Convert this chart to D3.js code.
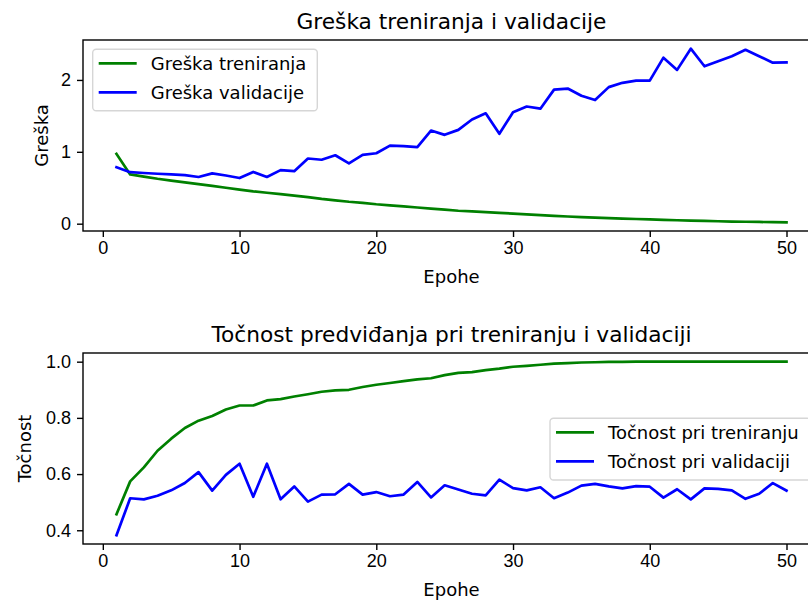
<!DOCTYPE html>
<html>
<head>
<meta charset="utf-8">
<script src="https://cdn.jsdelivr.net/npm/d3@7"></script>
<style>
  body { margin: 0; background: #fff; }
  svg { display: block; font-family: "DejaVu Sans", sans-serif; }
</style>
</head>
<body>
<div id="chart"></div>
<script>
// Data (epochs 1..50)
const epochs = d3.range(1, 51);

const trainLoss = [
  0.97, 0.685, 0.655, 0.625, 0.6, 0.575, 0.55, 0.525, 0.5, 0.475,
  0.45, 0.43, 0.41, 0.39, 0.37, 0.345, 0.325, 0.305, 0.29, 0.27,
  0.255, 0.24, 0.225, 0.21, 0.195, 0.18, 0.17, 0.16, 0.15, 0.14,
  0.13, 0.12, 0.11, 0.1, 0.092, 0.085, 0.078, 0.071, 0.065, 0.059,
  0.053, 0.048, 0.043, 0.038, 0.034, 0.03, 0.027, 0.024, 0.021, 0.019
];
const valLoss = [
  0.786, 0.717, 0.705, 0.695, 0.685, 0.675, 0.65, 0.7, 0.67, 0.635,
  0.72, 0.65, 0.745, 0.73, 0.907, 0.89, 0.952, 0.84, 0.958, 0.98,
  1.087, 1.08, 1.065, 1.296, 1.236, 1.305, 1.449, 1.536, 1.25, 1.55,
  1.63, 1.6, 1.865, 1.88, 1.78, 1.72, 1.9, 1.96, 1.99, 1.99,
  2.31, 2.14, 2.435, 2.19, 2.26, 2.33, 2.42, 2.33, 2.24, 2.245
];
const trainAcc = [
  0.457, 0.574, 0.624, 0.683, 0.726, 0.764, 0.79, 0.807, 0.83, 0.844,
  0.844, 0.862, 0.867, 0.876, 0.884, 0.893, 0.898, 0.9, 0.91, 0.918,
  0.924, 0.931, 0.937, 0.941, 0.952, 0.96, 0.963, 0.97, 0.975, 0.982,
  0.985, 0.989, 0.993, 0.995, 0.997, 0.998, 0.999, 0.999, 1.0, 1.0,
  1.0, 1.0, 1.0, 1.0, 1.0, 1.0, 1.0, 1.0, 1.0, 1.0
];
const valAcc = [
  0.382, 0.514, 0.51, 0.523, 0.542, 0.568, 0.607, 0.541, 0.597, 0.637,
  0.519, 0.637, 0.51, 0.556, 0.502, 0.527, 0.528, 0.565, 0.527, 0.536,
  0.521, 0.527, 0.572, 0.517, 0.56, 0.545, 0.53, 0.524, 0.58, 0.55,
  0.542, 0.553, 0.514, 0.534, 0.559, 0.565, 0.556, 0.549, 0.557, 0.555,
  0.516, 0.546, 0.51, 0.549, 0.547, 0.542, 0.512, 0.53, 0.568, 0.541
];

const xTicks = [0, 10, 20, 30, 40, 50];
const lossTicks = [0, 1, 2];
const accTicks = [0.4, 0.6, 0.8, 1.0];

// Figure constants
const width = 808;
const height = 600;
const axLeft = 83;
const axRight = 820; // frame runs past the picture edge, as in the original
const tickFont = 18;
const titleFont = 21.7;

const svg = d3
  .select("#chart")
  .append("svg")
  .attr("width", width)
  .attr("height", height);

// matplotlib-like 5% margin around the data
function padded(values) {
  const [lo, hi] = d3.extent(values);
  const pad = (hi - lo) * 0.05;
  return [lo - pad, hi + pad];
}

function drawPanel(cfg) {
  const { top, bottom, id } = cfg;
  const g = svg.append("g");

  const xScale = d3.scaleLinear().domain(padded(epochs)).range([axLeft, axRight]);
  const yScale = d3
    .scaleLinear()
    .domain(padded(cfg.series.flatMap((s) => s.values)))
    .range([bottom, top]);

  svg
    .append("clipPath")
    .attr("id", id)
    .append("rect")
    .attr("x", axLeft)
    .attr("y", top)
    .attr("width", axRight - axLeft)
    .attr("height", bottom - top);

  // Lines
  const line = d3
    .line()
    .x((d, i) => xScale(epochs[i]))
    .y((d) => yScale(d));

  cfg.series.forEach((s) => {
    g.append("path")
      .datum(s.values)
      .attr("fill", "none")
      .attr("stroke", s.color)
      .attr("stroke-width", 2.7)
      .attr("stroke-linejoin", "round")
      .attr("stroke-linecap", "square")
      .attr("clip-path", `url(#${id})`)
      .attr("d", line);
  });

  // Axes
  const xAxis = g
    .append("g")
    .attr("transform", `translate(0, ${bottom})`)
    .call(d3.axisBottom(xScale).tickValues(xTicks).tickSize(6).tickPadding(4).tickSizeOuter(0));
  const yAxis = g
    .append("g")
    .attr("transform", `translate(${axLeft}, 0)`)
    .call(
      d3.axisLeft(yScale).tickValues(cfg.yTicks).tickFormat(cfg.yFormat).tickSize(6).tickPadding(6).tickSizeOuter(0)
    );
  [xAxis, yAxis].forEach((a) => {
    a.select(".domain").remove();
    a.selectAll("line").attr("stroke", "#000").attr("stroke-width", 1.4);
    a.selectAll("text").attr("fill", "#000").style("font-size", tickFont + "px");
  });

  // Frame
  g.append("rect")
    .attr("x", axLeft)
    .attr("y", top)
    .attr("width", axRight - axLeft)
    .attr("height", bottom - top)
    .attr("fill", "none")
    .attr("stroke", "#000")
    .attr("stroke-width", 1.4);

  // Title and axis labels
  g.append("text")
    .attr("x", (axLeft + axRight) / 2)
    .attr("y", top - 11)
    .attr("text-anchor", "middle")
    .style("font-size", titleFont + "px")
    .text(cfg.title);

  g.append("text")
    .attr("x", (axLeft + axRight) / 2)
    .attr("y", bottom + 52)
    .attr("text-anchor", "middle")
    .style("font-size", tickFont + "px")
    .text("Epohe");

  g.append("text")
    .attr("transform", `translate(${cfg.yLabelX}, ${(top + bottom) / 2}) rotate(-90)`)
    .attr("text-anchor", "middle")
    .style("font-size", tickFont + "px")
    .text(cfg.yLabel);

  // Legend
  const lg = cfg.legend;
  const legend = g.append("g").attr("transform", `translate(${lg.x}, ${lg.y})`);
  legend
    .append("rect")
    .attr("width", lg.w)
    .attr("height", lg.h)
    .attr("rx", 3.5)
    .attr("fill", "#fff")
    .attr("fill-opacity", 0.8)
    .attr("stroke", "#d6d6d6")
    .attr("stroke-width", 1.4);
  cfg.series.forEach((s, i) => {
    const cy = 14 + i * 29;
    legend
      .append("line")
      .attr("x1", 6)
      .attr("x2", 44)
      .attr("y1", cy)
      .attr("y2", cy)
      .attr("stroke", s.color)
      .attr("stroke-width", 2.7);
    legend
      .append("text")
      .attr("x", 58)
      .attr("y", cy + 6.5)
      .style("font-size", tickFont + "px")
      .attr("fill", "#000")
      .text(s.name);
  });
}

drawPanel({
  id: "clipLoss",
  top: 40,
  bottom: 231,
  title: "Greška treniranja i validacije",
  yLabel: "Greška",
  yLabelX: 48,
  yTicks: lossTicks,
  yFormat: d3.format("d"),
  series: [
    { name: "Greška treniranja", values: trainLoss, color: "green" },
    { name: "Greška validacije", values: valLoss, color: "blue" }
  ],
  legend: { x: 92.7, y: 49.3, w: 224.6, h: 61.4 }
});

drawPanel({
  id: "clipAcc",
  top: 353,
  bottom: 544,
  title: "Točnost predviđanja pri treniranju i validaciji",
  yLabel: "Točnost",
  yLabelX: 31,
  yTicks: accTicks,
  yFormat: d3.format(".1f"),
  series: [
    { name: "Točnost pri treniranju", values: trainAcc, color: "green" },
    { name: "Točnost pri validaciji", values: valAcc, color: "blue" }
  ],
  legend: { x: 550, y: 418.3, w: 261, h: 61.7 }
});
</script>
</body>
</html>
